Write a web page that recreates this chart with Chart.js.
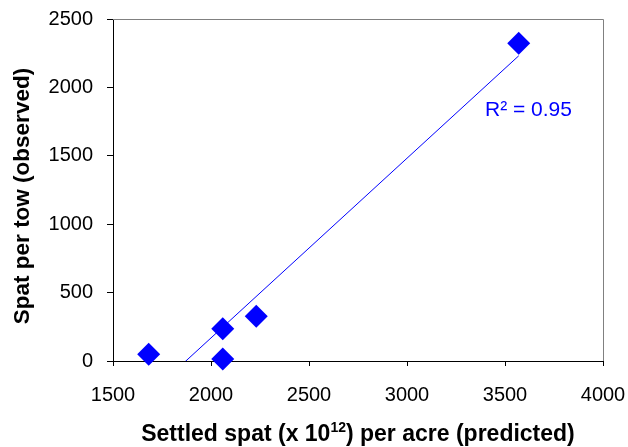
<!DOCTYPE html>
<html>
<head>
<meta charset="utf-8">
<script src="https://cdn.jsdelivr.net/npm/chart.js@4/dist/chart.umd.min.js"></script>
<style>
  html, body { margin: 0; padding: 0; background: #fff; }
  #wrap { width: 628px; height: 447px; }
</style>
</head>
<body>
<div id="wrap"><canvas id="c" width="628" height="447"></canvas></div>
<script>
// settled spat predicted (x 10^12 per acre) vs spat per tow observed
var predicted = [1682, 2060, 2060, 2231, 3570];
var observed = [49, 236, 15, 327, 2322];
var xTicks = [1500, 2000, 2500, 3000, 3500, 4000];
var yTicks = [0, 500, 1000, 1500, 2000, 2500];
var r2Label = 'R\u00b2 = 0.95';

var FONT = '"Liberation Sans", Arial, sans-serif';

// least squares trendline, same as excel's linear trendline
var fitLine = (xs, ys) => {
    let n = xs.length, mx = 0, my = 0;
    for (let i = 0; i < n; i++) { mx += xs[i]; my += ys[i]; }
    mx /= n; my /= n;
    let sxy = 0, sxx = 0;
    for (let i = 0; i < n; i++) {
        sxy += (xs[i] - mx) * (ys[i] - my);
        sxx += (xs[i] - mx) * (xs[i] - mx);
    }
    const slope = sxy / sxx;
    const icept = my - slope * mx;
    const x0 = Math.min(...xs), x1 = Math.max(...xs);
    return [{x: x0, y: slope * x0 + icept}, {x: x1, y: slope * x1 + icept}];
};

var points = predicted.map((v, i) => ({x: v, y: observed[i]}));

// draws a run of [text, isSuperscript] pieces centred on cx
var drawRich = (ctx, parts, cx, cy, size) => {
    const big = 'bold ' + size + 'px ' + FONT;
    const small = 'bold ' + Math.round(size * 0.62) + 'px ' + FONT;
    let total = 0;
    parts.forEach(p => { ctx.font = p[1] ? small : big; total += ctx.measureText(p[0]).width; });
    let x = cx - total / 2;
    ctx.textAlign = 'left';
    parts.forEach(p => {
        ctx.font = p[1] ? small : big;
        ctx.textBaseline = p[1] ? 'alphabetic' : 'middle';
        ctx.fillText(p[0], x, p[1] ? cy - size * 0.12 : cy);
        x += ctx.measureText(p[0]).width;
    });
};

// titles drawn by hand so the superscript and position match
var extras = {
    id: 'extras',
    beforeDatasetsDraw(chart) {
        const a = chart.chartArea, ctx = chart.ctx;
        ctx.save();
        ctx.strokeStyle = '#808080';
        ctx.lineWidth = 1;
        ctx.beginPath();
        ctx.moveTo(a.left, a.top + 0.5);
        ctx.lineTo(a.right + 0.5, a.top + 0.5);
        ctx.lineTo(a.right + 0.5, a.bottom);
        ctx.stroke();
        ctx.restore();
    },
    afterDraw(chart) {
        const a = chart.chartArea, ctx = chart.ctx;
        ctx.save();
        ctx.fillStyle = '#000';
        drawRich(ctx, [['Settled spat (x 10', false], ['12', true], [') per acre (predicted)', false]],
            (a.left + a.right) / 2, 435, 23);
        ctx.translate(23, 196);
        ctx.rotate(-Math.PI / 2);
        ctx.font = 'bold 22.5px ' + FONT;
        ctx.textAlign = 'center';
        ctx.textBaseline = 'middle';
        ctx.fillText('Spat per tow (observed)', 0, 0);
        ctx.restore();

        // R squared label
        ctx.save();
        ctx.fillStyle = '#0000ff';
        ctx.font = '21px ' + FONT;
        ctx.textAlign = 'left';
        ctx.textBaseline = 'middle';
        ctx.fillText(r2Label, 485, 110);
        ctx.restore();
    }
};

var config = {
    type: 'scatter',
    data: {
        datasets: [
            {
                label: 'trend',
                type: 'line',
                data: fitLine(predicted, observed),
                borderColor: '#0000ff',
                borderWidth: 1,
                pointRadius: 0,
                fill: false,
                clip: 0,
            },
            {
                label: 'spat',
                data: points,
                pointStyle: 'rectRot',
                pointRadius: 11.5,
                pointHoverRadius: 11.5,
                backgroundColor: '#0000ff',
                borderColor: '#0000ff',
                borderWidth: 0,
                clip: false,
            },
        ]
    },
    plugins: [extras],
    options: {
        responsive: false,
        animation: false,
        layout: { padding: { top: 19, right: 25, left: 0, bottom: 0 } },
        plugins: {
            legend: { display: false },
            tooltip: { enabled: false },
        },
        scales: {
            x: {
                type: 'linear',
                min: 1500,
                max: 4000,
                afterFit: (s) => { s.height = 86; s.paddingLeft = 0; s.paddingRight = 0; },
                afterBuildTicks: (s) => { s.ticks = xTicks.map(v => ({value: v})); },
                border: { display: true, color: '#000', width: 1 },
                grid: { drawOnChartArea: false, drawTicks: true, tickLength: 5, color: '#000' },
                ticks: { color: '#000', font: { family: FONT, size: 20 }, padding: 17, maxRotation: 0,
                         callback: (v) => String(v) },
            },
            y: {
                type: 'linear',
                min: 0,
                max: 2500,
                afterFit: (s) => { s.width = 113; s.paddingTop = 0; s.paddingBottom = 0; },
                afterBuildTicks: (s) => { s.ticks = yTicks.map(v => ({value: v})); },
                border: { display: true, color: '#000', width: 1 },
                grid: { drawOnChartArea: false, drawTicks: true, tickLength: 6, color: '#000' },
                ticks: { color: '#000', font: { family: FONT, size: 20 }, padding: 14,
                         callback: (v) => String(v) },
            },
        }
    }
};

var myChart = new Chart(document.getElementById('c'), config);
</script>
</body>
</html>
